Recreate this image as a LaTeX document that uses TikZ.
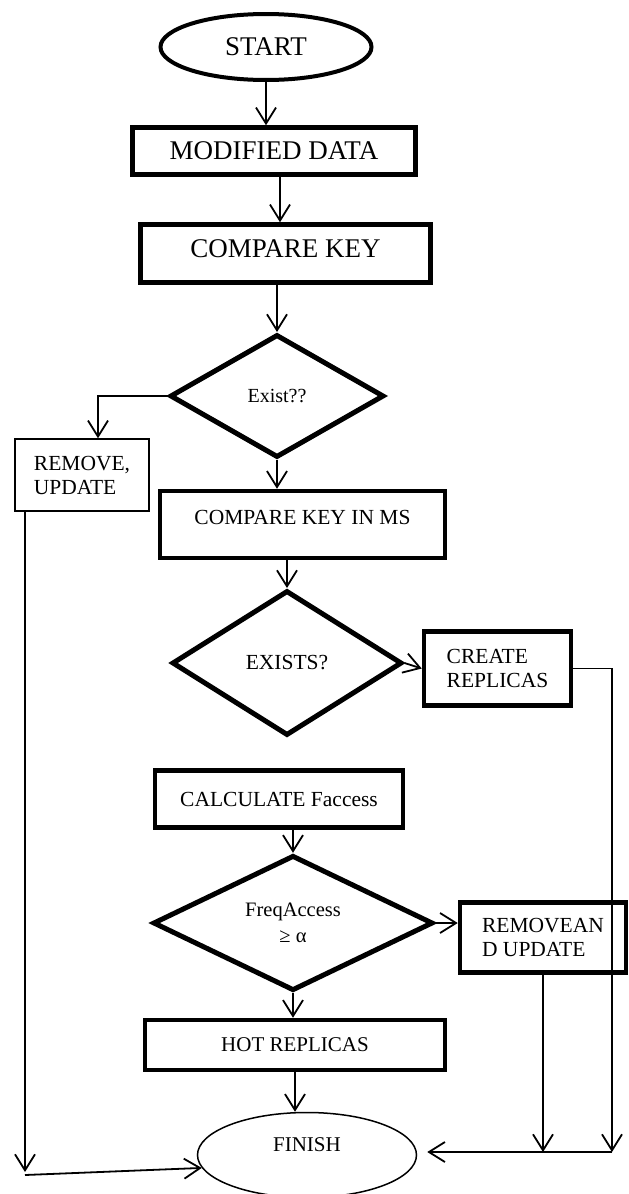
\documentclass[tikz,border=0pt]{standalone}
\usepackage{fontspec}
\setmainfont{Liberation Serif}
\usetikzlibrary{shapes.geometric,arrows.meta}

\begin{document}
\begin{tikzpicture}[
    x=1pt, y=-1pt,
    every node/.style={draw, inner sep=0pt, align=center},
    block/.style={rectangle, line width=4.5pt},
    thinblock/.style={rectangle, line width=1.5pt},
    decision/.style={diamond, line width=5pt},
    terminal/.style={ellipse},
    flow/.style={line width=1.8pt, -{Straight Barb[length=16pt,width=20pt]}},
    big/.style={font=\fontsize{27}{29}\selectfont},
    mid/.style={font=\fontsize{21.5}{24}\selectfont}
  ]

  \useasboundingbox (0,0) rectangle (629,1194);

  % Start and first steps
  \node[terminal, big, line width=4pt, minimum width=211pt, minimum height=66pt] (start) at (266,47) {START};
  \node[block, big, minimum width=283pt, minimum height=47pt] (moddata) at (274,151) {MODIFIED DATA};
  \node[block, big, minimum width=290pt, minimum height=58pt, text depth=10pt] (cmpkey) at (285.5,253.5) {COMPARE KEY};

  % First check
  \node[decision, font=\fontsize{20}{24}\selectfont, minimum width=214pt, minimum height=123pt] (exist) at (277,396) {Exist??};
  \node[thinblock, mid, align=left, minimum width=134pt, minimum height=72pt] (remupd) at (82,475) {REMOVE,\\UPDATE};
  \node[block, mid, minimum width=285pt, minimum height=67pt, text depth=15pt] (cmpms) at (302.5,524.5) {COMPARE KEY IN MS};

  % Second check
  \node[decision, mid, minimum width=230pt, minimum height=145pt] (exists) at (287,663) {EXISTS?};
  \node[block, mid, align=left, minimum width=147pt, minimum height=74pt] (create) at (497.5,668.5) {CREATE\\REPLICAS};
  \node[block, mid, minimum width=248pt, minimum height=57pt] (calc) at (279,799) {CALCULATE Faccess};

  % Access frequency
  \node[decision, font=\fontsize{20.5}{26}\selectfont, minimum width=280pt, minimum height=122pt] (freq) at (293,923) {FreqAccess\\≥ α};
  \node[block, mid, align=left, minimum width=166pt, minimum height=70pt] (rmvand) at (543,937.5) {REMOVEAN\\D UPDATE};
  \node[block, font=\fontsize{21}{24}\selectfont, minimum width=300pt, minimum height=50pt] (hot) at (295,1045) {HOT REPLICAS};

  % End
  \node[terminal, font=\fontsize{21}{24}\selectfont, line width=1.5pt, minimum width=219pt, minimum height=85pt, text depth=20pt] (finish) at (307,1155) {FINISH};

  % Loose ends of the side lines
  \coordinate (leftend) at (25,1172);
  \coordinate (rightend) at (612,1152);

  % Connectors
  \draw[flow] (start) -- (start |- moddata.north);
  \draw[flow] ([xshift=6pt]moddata.south) -- ([xshift=-5.5pt]cmpkey.north);
  \draw[flow] (exist.north |- cmpkey.south) -- (exist.north);
  \draw[flow] (exist.west) -| ([xshift=16pt]remupd.north);
  \draw[flow] (exist.south) -- (exist.south |- cmpms.north);
  \draw[flow] (exists.north |- cmpms.south) -- (exists.north);
  \draw[flow] (exists.east) -- (create.west);
  \draw[flow] (create.east) -| (rightend);
  \draw[flow] (freq.north |- calc.south) -- (freq.north);
  \draw[flow] (freq.east) -- (freq.east -| rmvand.west);
  \draw[flow] (freq.south) -- (freq.south |- hot.north);
  \draw[flow] (hot.south) -- (hot.south |- finish.north);
  \draw[flow] (rmvand.south) -- (rmvand.south |- rightend);
  \draw[flow, shorten >=10pt] (rightend) -- (rightend -| finish.east);
  \draw[flow] (leftend |- remupd.south) -- (leftend);
  \draw[flow] ([yshift=-3pt]leftend) -- (finish.187);

\end{tikzpicture}
\end{document}
